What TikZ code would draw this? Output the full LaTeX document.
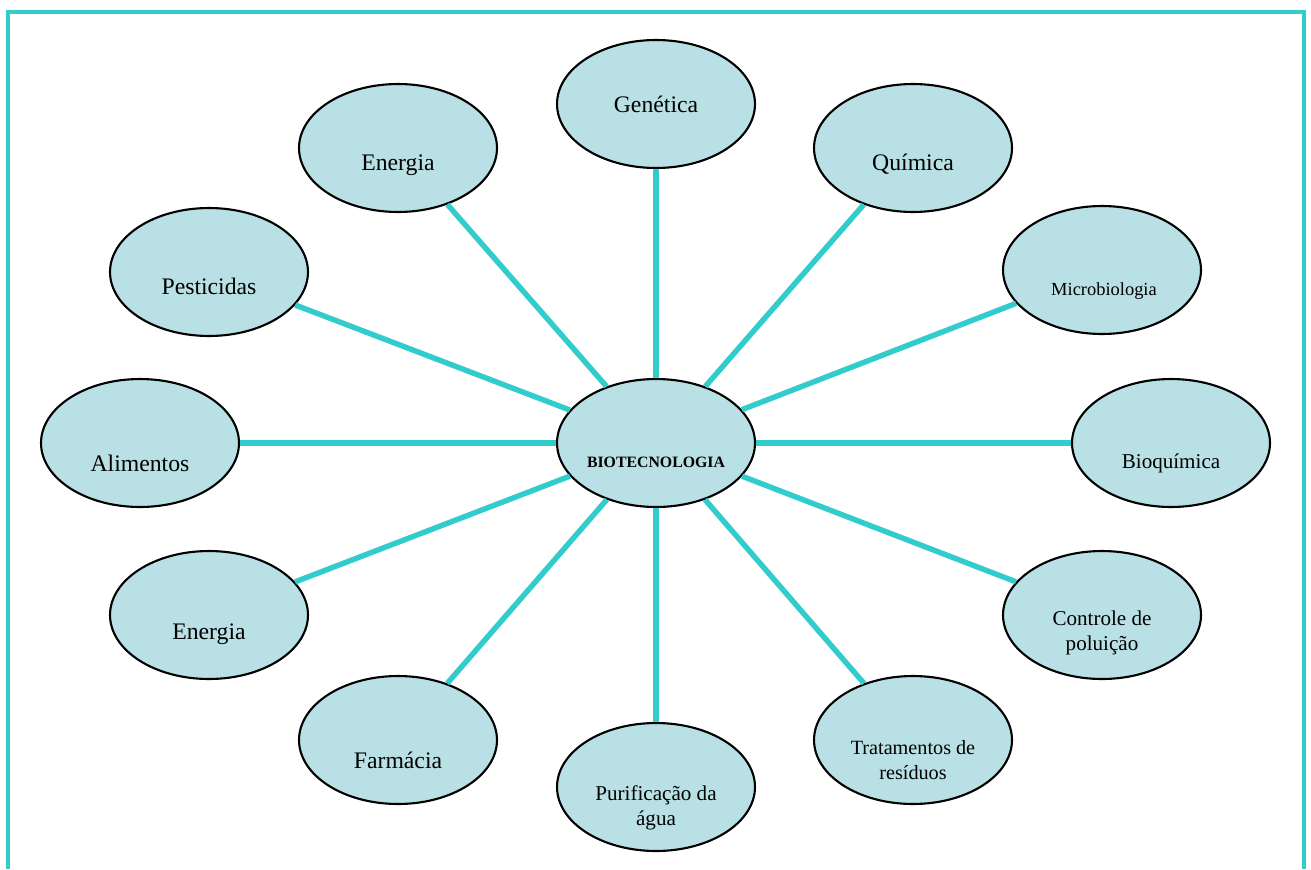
\documentclass[tikz,border=0pt]{standalone}
\usepackage{fontspec}
\setmainfont{Liberation Serif}
\usetikzlibrary{shapes.geometric}
\definecolor{cteal}{RGB}{51,204,204}
\definecolor{cpale}{RGB}{185,224,228}
\newcommand{\fbig}{\fontsize{13.5}{16}\selectfont}
\newcommand{\fmid}{\fontsize{12}{14}\selectfont}
\newcommand{\fsml}{\fontsize{11.5}{14}\selectfont}
\newcommand{\ftny}{\fontsize{10.5}{12}\selectfont}
\newcommand{\fhub}{\fontsize{9}{11}\selectfont\bfseries}

\begin{document}
\begin{tikzpicture}[x=0.02cm, y=-0.02cm,
    topic/.style n args={3}{ellipse, draw, very thick, fill=cpale, minimum width=3.96cm, minimum height=2.56cm, inner sep=0pt,
      label={[align=center, font=#3, #2]center:#1}},
    link/.style={line width=3.1pt, cteal}]
    \useasboundingbox (0,0) rectangle (1311,869);
    \draw[cteal, line width=2.2pt] (8,869) -- (8,12) -- (1304,12) -- (1304,869);

    \node[topic={BIOTECNOLOGIA}{yshift=-0.38cm}{\fhub}] (Bio) at (656,443) {};
    \node[topic={Genética}{yshift=0cm}{\fbig}] (Gen) at (656,104) {};
    \node[topic={Química}{yshift=-0.32cm}{\fbig}] (Qui) at (913,148) {};
    \node[topic={Energia}{yshift=-0.34cm}{\fbig}] (EneA) at (398,148) {};
    \node[topic={Microbiologia}{xshift=0.04cm, yshift=-0.42cm}{\ftny}] (Micro) at (1102,270) {};
    \node[topic={Pesticidas}{yshift=-0.28cm}{\fbig}] (Pest) at (209,272) {};
    \node[topic={Alimentos}{yshift=-0.4cm}{\fbig}] (Alim) at (140,443) {};
    \node[topic={Bioquímica}{yshift=-0.4cm}{\fmid}] (Bioq) at (1171,443) {};
    \node[topic={Energia}{yshift=-0.38cm}{\fbig}] (EneB) at (209,615) {};
    \node[topic={Controle de\\poluição}{yshift=-0.36cm}{\fmid}] (Cont) at (1102,615) {};
    \node[topic={Farmácia}{yshift=-0.4cm}{\fbig}] (Farm) at (398,740) {};
    \node[topic={Tratamentos de\\resíduos}{yshift=-0.4cm}{\fsml}] (Trat) at (913,740) {};
    \node[topic={Purificação da\\água}{yshift=-0.42cm}{\fmid}] (Puri) at (656,787) {};

    \foreach \t in {Gen,Qui,EneA,Micro,Pest,Alim,Bioq,EneB,Cont,Farm,Trat,Puri}
      \draw[link] (Bio) to (\t);
\end{tikzpicture}
\end{document}
